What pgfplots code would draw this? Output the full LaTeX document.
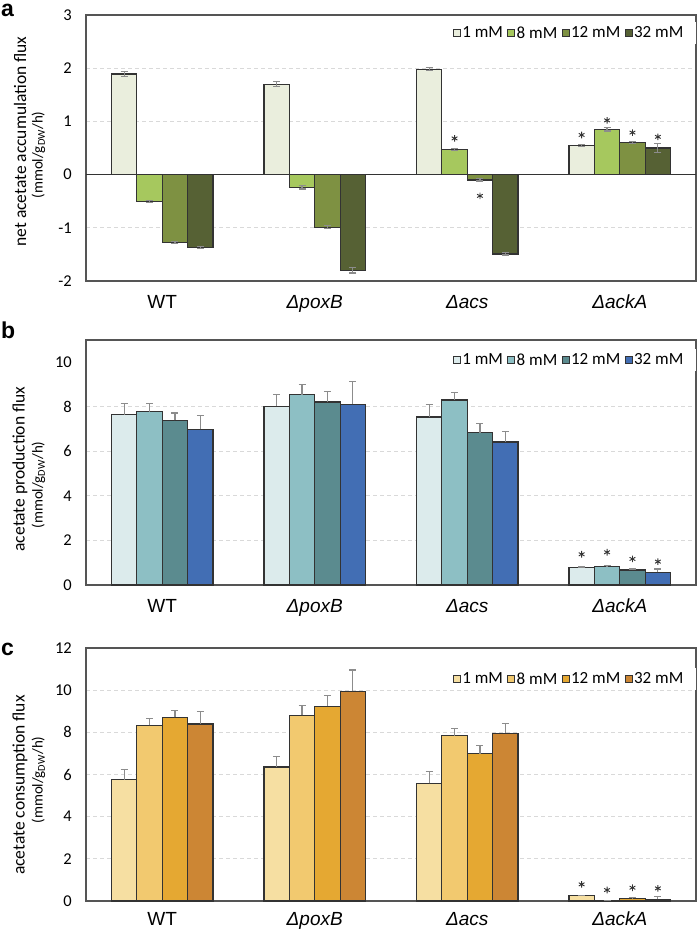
\documentclass[border=0pt]{standalone}
\usepackage{fontspec}
\setmainfont{Carlito}
\newfontfamily\arialf{Liberation Sans}
\usepackage{pgfplots}
\pgfplotsset{compat=1.18}
\definecolor{aA}{HTML}{EAEEDD}
\definecolor{aB}{HTML}{A6C85E}
\definecolor{aC}{HTML}{7E9142}
\definecolor{aD}{HTML}{566134}
\definecolor{bA}{HTML}{DCEBEC}
\definecolor{bB}{HTML}{8DBFC4}
\definecolor{bC}{HTML}{5B8B8F}
\definecolor{bD}{HTML}{426EB4}
\definecolor{cA}{HTML}{F6DFA2}
\definecolor{cB}{HTML}{F2C96F}
\definecolor{cC}{HTML}{E5A832}
\definecolor{cD}{HTML}{CC8634}
\definecolor{edgec}{HTML}{333333}
\definecolor{framec}{HTML}{555555}
\definecolor{gridc}{HTML}{D9D9D9}
\definecolor{errc}{HTML}{8C8C8C}
\pgfplotsset{
  panel/.style={
    scale only axis, width=610pt,
    xmin=-0.5, xmax=3.5,
    xtick={0,1,2,3},
    xticklabels={WT,{\itshape Δ}\textit{poxB},{\itshape Δ}\textit{acs},{\itshape Δ}\textit{ackA}},
    xticklabel style={font=\arialf\fontsize{19}{19}\selectfont, anchor=north, inner sep=0pt, yshift=-14pt},
    yticklabel style={font=\fontsize{16.5}{16.5}\selectfont, anchor=east, inner sep=0pt, xshift=-14pt},
    /pgf/number format/assume math mode=true,
    major tick length=0pt,
    ymajorgrids,
    grid style={dash pattern=on 4pt off 3pt, draw=gridc, line width=0.9pt},
    axis line style={draw=framec, line width=1.3pt},
    legend columns=4,
    legend style={draw=none, fill=white, at={(rel axis cs:1,0.93)}, anchor=east,
      inner xsep=11pt, inner ysep=3pt,
      font=\fontsize{17}{17}\selectfont,
      nodes={inner sep=1.5pt},
      /tikz/every even column/.append style={column sep=3pt}},
    legend image code/.code={\draw[##1, line width=0.8pt] (0pt,-3.5pt) rectangle (7pt,3.5pt);},
  },
  bars/.style={ybar, bar width=0.1667, bar shift=0pt, draw=edgec, line width=1.3pt,
    error bars/y dir=#1, error bars/y explicit,
    error bars/error bar style={draw=errc, line width=1.2pt},
    error bars/error mark options={draw=errc, line width=1.2pt, mark size=3.5pt, rotate=90}},
  stars/.style={only marks, mark=asterisk, mark size=3.3pt, forget plot,
    mark options={draw=black!80, line width=0.9pt}},
}
\begin{document}
\begin{tikzpicture}
\path[use as bounding box] (0,0) rectangle (697pt,-931pt);
% ---------------- panel a
\begin{axis}[panel, at={(86pt,-281pt)}, anchor=south west, height=266pt,
  ymin=-2, ymax=3, ytick={-2,-1,0,1,2,3},
  extra y ticks={0}, extra y tick labels={},
  extra y tick style={grid=major, major grid style={solid, draw=edgec, line width=1.2pt}},
  legend style={at={(rel axis cs:1,0.932)}}]
\addplot[bars=both, fill=aA] coordinates {(-0.25,1.89)+-(0,0.05) (0.75,1.70)+-(0,0.05) (1.75,1.98)+-(0,0.03) (2.75,0.55)+-(0,0.02)};
\addplot[bars=both, fill=aB] coordinates {(-0.0833,-0.51)+-(0,0.02) (0.9167,-0.24)+-(0,0.03) (1.9167,0.475)+-(0,0.02) (2.9167,0.85)+-(0,0.03)};
\addplot[bars=both, fill=aC] coordinates {(0.0833,-1.28)+-(0,0.02) (1.0833,-0.99)+-(0,0.03) (2.0833,-0.10)+-(0,0.02) (3.0833,0.60)+-(0,0.02)};
\addplot[bars=both, fill=aD] coordinates {(0.25,-1.37)+-(0,0.02) (1.25,-1.80)+-(0,0.05) (2.25,-1.49)+-(0,0.02) (3.25,0.50)+-(0,0.08)};
\addplot[stars] coordinates {(1.9167,0.68) (2.0833,-0.40) (2.75,0.745) (2.9167,1.02) (3.0833,0.79) (3.25,0.71)};
\legend{1 mM,8 mM,12 mM,32 mM}
\end{axis}
% ---------------- panel b
\begin{axis}[panel, at={(86pt,-585pt)}, anchor=south west, height=245pt,
  ymin=0, ymax=11, ytick={0,2,4,6,8},
  extra y ticks={10}, extra y tick style={grid=none},
  legend style={at={(rel axis cs:1,0.918)}}]
\addplot[bars=plus, fill=bA] coordinates {(-0.25,7.64)+-(0,0.50) (0.75,8.03)+-(0,0.54) (1.75,7.54)+-(0,0.58) (2.75,0.79)+-(0,0.02)};
\addplot[bars=plus, fill=bB] coordinates {(-0.0833,7.79)+-(0,0.36) (0.9167,8.55)+-(0,0.46) (1.9167,8.31)+-(0,0.34) (2.9167,0.84)+-(0,0.03)};
\addplot[bars=plus, fill=bC] coordinates {(0.0833,7.39)+-(0,0.33) (1.0833,8.21)+-(0,0.49) (2.0833,6.84)+-(0,0.40) (3.0833,0.67)+-(0,0.05)};
\addplot[bars=plus, fill=bD] coordinates {(0.25,6.99)+-(0,0.61) (1.25,8.12)+-(0,1.03) (2.25,6.42)+-(0,0.47) (3.25,0.57)+-(0,0.15)};
\addplot[stars] coordinates {(2.75,1.38) (2.9167,1.47) (3.0833,1.17) (3.25,1.05)};
\legend{1 mM,8 mM,12 mM,32 mM}
\end{axis}
% ---------------- panel c
\begin{axis}[panel, at={(86pt,-901pt)}, anchor=south west, height=253pt,
  ymin=0, ymax=12, ytick={0,2,4,6,8,10,12},
  xticklabel style={yshift=3pt},
  legend style={at={(rel axis cs:1,0.877)}}]
\addplot[bars=plus, fill=cA] coordinates {(-0.25,5.75)+-(0,0.50) (0.75,6.35)+-(0,0.52) (1.75,5.58)+-(0,0.55) (2.75,0.27)+-(0,0.01)};
\addplot[bars=plus, fill=cB] coordinates {(-0.0833,8.33)+-(0,0.34) (0.9167,8.80)+-(0,0.49) (1.9167,7.85)+-(0,0.33) (2.9167,0.03)+-(0,0.01)};
\addplot[bars=plus, fill=cC] coordinates {(0.0833,8.71)+-(0,0.33) (1.0833,9.24)+-(0,0.49) (2.0833,6.98)+-(0,0.41) (3.0833,0.11)+-(0,0.05)};
\addplot[bars=plus, fill=cD] coordinates {(0.25,8.39)+-(0,0.60) (1.25,9.94)+-(0,1.02) (2.25,7.96)+-(0,0.46) (3.25,0.08)+-(0,0.13)};
\addplot[stars] coordinates {(2.75,0.79) (2.9167,0.52) (3.0833,0.63) (3.25,0.60)};
\legend{1 mM,8 mM,12 mM,32 mM}
\end{axis}
% ---------------- labels
\node[rotate=90, font=\fontsize{17.5}{17.5}\selectfont] at (20pt,-141.5pt) {net acetate accumulation flux};
\node[rotate=90, font=\fontsize{15}{15}\selectfont] at (38.5pt,-155pt) {(mmol/g\textsubscript{DW}/h)};
\node[rotate=90, font=\fontsize{17.5}{17.5}\selectfont] at (20pt,-469pt) {acetate production flux};
\node[rotate=90, font=\fontsize{15}{15}\selectfont] at (38.5pt,-485pt) {(mmol/g\textsubscript{DW}/h)};
\node[rotate=90, font=\fontsize{17.5}{17.5}\selectfont] at (20pt,-785pt) {acetate consumption flux};
\node[rotate=90, font=\fontsize{15}{15}\selectfont] at (38.5pt,-780pt) {(mmol/g\textsubscript{DW}/h)};
\node[font=\arialf\bfseries\fontsize{23}{23}\selectfont, anchor=base west, inner sep=0pt] at (1pt,-17pt) {a};
\node[font=\arialf\bfseries\fontsize{23}{23}\selectfont, anchor=base west, inner sep=0pt] at (1pt,-338pt) {b};
\node[font=\arialf\bfseries\fontsize{23}{23}\selectfont, anchor=base west, inner sep=0pt] at (1pt,-655pt) {c};
\end{tikzpicture}
\end{document}
